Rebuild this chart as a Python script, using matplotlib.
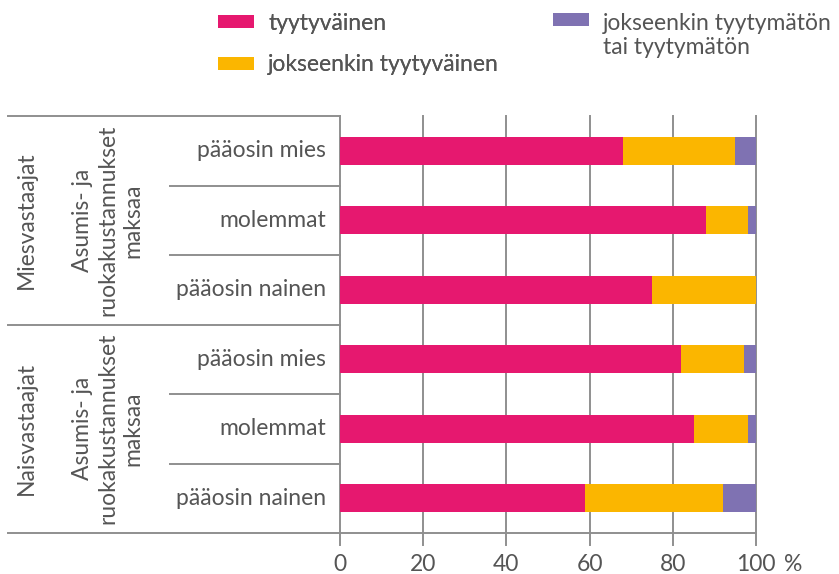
import matplotlib.pyplot as plt
from matplotlib.lines import Line2D
import numpy as np

# shares in %, rows top to bottom
rivit = ['pääosin mies', 'molemmat', 'pääosin nainen',
         'pääosin mies', 'molemmat', 'pääosin nainen']
ryhmat = ['Miesvastaajat', 'Naisvastaajat']
alaotsikko = 'Asumis- ja\nruokakustannukset\nmaksaa'
tyytyvainen = [68, 88, 75, 82, 85, 59]
jokseenkin = [27, 10, 25, 15, 13, 33]
tyytymaton = [5, 2, 0, 3, 2, 8]
sarjat = ['tyytyväinen', 'jokseenkin tyytyväinen', 'jokseenkin tyytymätön\ntai tyytymätön']
xticks = [0, 20, 40, 60, 80, 100]

varit = ['#E6186F', '#FBB600', '#7F72B2']
teksti = '#555555'
viiva = '#8f8f8f'
fs = 16.5

plt.rcParams['font.family'] = ['Lato', 'DejaVu Sans']
plt.rcParams['font.size'] = fs

W, H = 839, 574
fig = plt.figure(figsize=(W / 100, H / 100), dpi=100)
ax = fig.add_axes([340 / W, 1 - 533 / H, 416 / W, 417 / H])

y = np.arange(len(rivit))
left = np.zeros(len(rivit))
bars = []
for arvot, vari, nimi in zip([tyytyvainen, jokseenkin, tyytymaton], varit, sarjat):
    b = ax.barh(y, arvot, left=left, height=0.4, color=vari, label=nimi, zorder=3)
    bars.append(b)
    left = left + np.array(arvot)

ax.set_xlim(0, 100)
ax.set_ylim(len(rivit) - 0.5, -0.5)
for s in ax.spines.values():
    s.set_visible(False)
ax.set_yticks([])
ax.set_xticks(xticks)
ax.set_xticklabels([str(t) for t in xticks], color=teksti)
ax.tick_params(axis='x', length=0, pad=15, labelsize=fs)
ax.annotate('%', xy=(109, 0), xycoords=('data', 'axes fraction'), xytext=(0, -15),
            textcoords='offset points', ha='center', va='top', color=teksti, fontsize=fs)

# vertical gridlines, running a bit below the table
for t in xticks:
    ax.plot([t, t], [-0.5, len(rivit) - 0.5 + 0.17], color=viiva, lw=1.4,
            clip_on=False, zorder=1)

# table lines on the left
tr = ax.get_yaxis_transform()
x_ala = -170 / 416
x_vasen = -332 / 416
for raja in [0.5, 1.5, 3.5, 4.5]:
    ax.add_line(Line2D([x_ala, 0], [raja, raja], transform=tr, color=viiva, lw=1.4, clip_on=False))
for raja in [-0.5, 2.5]:
    ax.add_line(Line2D([x_vasen, 0], [raja, raja], transform=tr, color=viiva, lw=1.4, clip_on=False))
ax.add_line(Line2D([x_vasen, 1], [5.5, 5.5], transform=tr, color=viiva, lw=1.4, clip_on=False))

for i, r in enumerate(rivit):
    ax.text(-14 / 416, i, r, transform=tr, ha='right', va='center', color=teksti, fontsize=fs)

for g, nimi in enumerate(ryhmat):
    yc = g * 3 + 1
    ax.text(-314 / 416, yc, nimi, transform=tr, rotation=90, ha='center', va='center',
            color=teksti, fontsize=fs)
    ax.text(-232 / 416, yc, alaotsikko, transform=tr, rotation=90, ha='center', va='center',
            color=teksti, fontsize=fs, multialignment='center', linespacing=1.25)

# legend in two parts
leg1 = fig.legend(bars[:2], sarjat[:2], loc='upper left', bbox_to_anchor=(197 / W, 1 + 8 / H),
                  frameon=False, handlelength=1.6, handleheight=0.5, handletextpad=0.6,
                  labelspacing=0.9, fontsize=fs, labelcolor=teksti)
leg2 = fig.legend(bars[2:], sarjat[2:], loc='upper left', bbox_to_anchor=(532 / W, 1 + 8 / H),
                  frameon=False, handlelength=1.6, handleheight=0.5, handletextpad=0.6,
                  fontsize=fs, labelcolor=teksti)
for rivi in leg2._legend_handle_box.get_children()[0].get_children():
    rivi.align = 'top'
fig.add_artist(leg1)

fig.savefig('out.png', dpi=100)
